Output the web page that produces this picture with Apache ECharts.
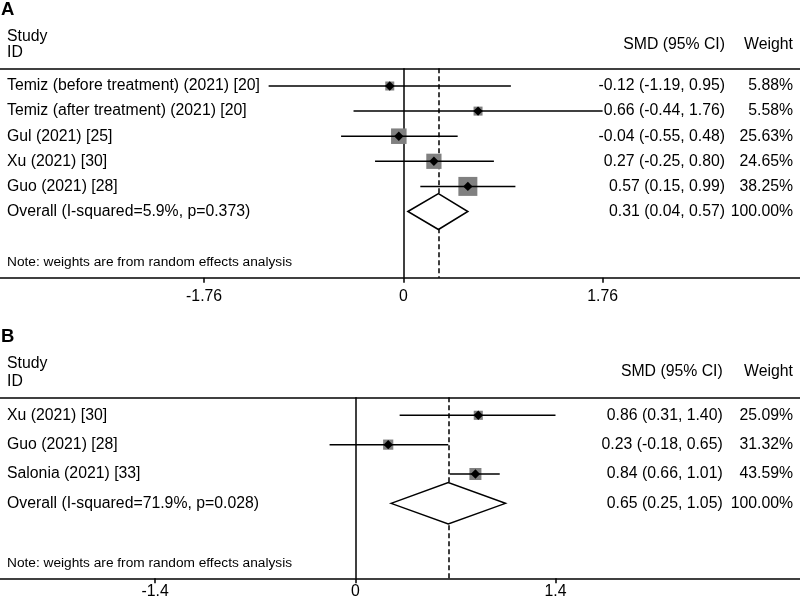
<!DOCTYPE html>
<html>
<head>
<meta charset="utf-8">
<script src="https://cdn.jsdelivr.net/npm/echarts@6/dist/echarts.min.js"></script>
<style>html,body{margin:0;padding:0;background:#fff;}#c{width:800px;height:605px;}</style>
</head>
<body>
<div id="c"></div>
<script>
// ---------- Panel A data ----------
const studiesA = ['Temiz (before treatment) (2021) [20]', 'Temiz (after treatment) (2021) [20]', 'Gul (2021) [25]', 'Xu (2021) [30]', 'Guo (2021) [28]'];
const smdA = [-0.12, 0.66, -0.04, 0.27, 0.57];
const lowerA = [-1.19, -0.44, -0.55, -0.25, 0.15];
const upperA = [0.95, 1.76, 0.48, 0.80, 0.99];
const weightA = [5.88, 5.58, 25.63, 24.65, 38.25];
const overallLabelA = 'Overall (I-squared=5.9%, p=0.373)';
const overallA = [0.31, 0.04, 0.57];
const ticksA = [-1.76, 0, 1.76];

// ---------- Panel B data ----------
const studiesB = ['Xu (2021) [30]', 'Guo (2021) [28]', 'Salonia (2021) [33]'];
const smdB = [0.86, 0.23, 0.84];
const lowerB = [0.31, -0.18, 0.66];
const upperB = [1.40, 0.65, 1.01];
const weightB = [25.09, 31.32, 43.59];
const overallLabelB = 'Overall (I-squared=71.9%, p=0.028)';
const overallB = [0.65, 0.25, 1.05];
const ticksB = [-1.4, 0, 1.4];

const noteText = 'Note: weights are from random effects analysis';

const FONT = '"Liberation Sans", Arial, Helvetica, sans-serif';
const FS = 15.8;
const chart = echarts.init(document.getElementById('c'), null, {renderer: 'canvas'});

function fmtCI(e, l, h) { return e.toFixed(2) + ' (' + l.toFixed(2) + ', ' + h.toFixed(2) + ')'; }

function studyRender(names, k, smdRight) {
  return function (params, api) {
    const row = api.value(0), est = api.value(1), lo = api.value(2), hi = api.value(3), w = api.value(4);
    const pe = api.coord([est, row]);
    const pl = api.coord([lo, row]);
    const ph = api.coord([hi, row]);
    const s = Math.max(k * Math.sqrt(w), 9);
    const d = 4.7;
    return {
      type: 'group',
      children: [
        {type: 'rect', shape: {x: pe[0] - s / 2, y: pe[1] - s / 2, width: s, height: s}, style: {fill: '#808080'}},
        {type: 'line', shape: {x1: pl[0], y1: pl[1], x2: ph[0], y2: ph[1]}, style: {stroke: '#000', lineWidth: 1.5}},
        {type: 'polygon', shape: {points: [[pe[0] - d, pe[1]], [pe[0], pe[1] - d], [pe[0] + d, pe[1]], [pe[0], pe[1] + d]]}, style: {fill: '#000'}},
        {type: 'text', style: {x: 7, y: pe[1], text: names[params.dataIndex], fontSize: FS, fontFamily: FONT, fill: '#000', align: 'left', verticalAlign: 'middle'}},
        {type: 'text', style: {x: smdRight, y: pe[1], text: fmtCI(est, lo, hi), fontSize: FS, fontFamily: FONT, fill: '#000', align: 'right', verticalAlign: 'middle'}},
        {type: 'text', style: {x: 793, y: pe[1], text: w.toFixed(2) + '%', fontSize: FS, fontFamily: FONT, fill: '#000', align: 'right', verticalAlign: 'middle'}}
      ]
    };
  };
}

function overallRender(label, halfH, smdRight) {
  return function (params, api) {
    const row = api.value(0), est = api.value(1), lo = api.value(2), hi = api.value(3);
    const pe = api.coord([est, row]);
    const pl = api.coord([lo, row]);
    const ph = api.coord([hi, row]);
    return {
      type: 'group',
      children: [
        {type: 'polygon', shape: {points: [[pl[0], pl[1]], [pe[0], pe[1] - halfH], [ph[0], ph[1]], [pe[0], pe[1] + halfH]]}, style: {fill: '#fff', stroke: '#000', lineWidth: 1.5}},
        {type: 'text', style: {x: 7, y: pe[1], text: label, fontSize: FS, fontFamily: FONT, fill: '#000', align: 'left', verticalAlign: 'middle'}},
        {type: 'text', style: {x: smdRight, y: pe[1], text: fmtCI(est, lo, hi), fontSize: FS, fontFamily: FONT, fill: '#000', align: 'right', verticalAlign: 'middle'}},
        {type: 'text', style: {x: 793, y: pe[1], text: '100.00%', fontSize: FS, fontFamily: FONT, fill: '#000', align: 'right', verticalAlign: 'middle'}}
      ]
    };
  };
}

function bottomAxis(grid, min, max, ticks, margin) {
  return {
    gridIndex: grid, type: 'value', min: min, max: max, position: 'bottom',
    axisLine: {show: true, onZero: false, lineStyle: {color: '#000', width: 1.5}},
    axisTick: {show: true, customValues: ticks, length: 5, lineStyle: {color: '#000', width: 1.5}},
    axisLabel: {show: true, customValues: ticks, formatter: v => String(v), margin: margin, fontSize: FS, fontFamily: FONT, color: '#000'},
    splitLine: {show: false}
  };
}
function topAxis(grid, min, max) {
  return {
    gridIndex: grid, type: 'value', min: min, max: max, position: 'top',
    axisLine: {show: true, onZero: false, lineStyle: {color: '#000', width: 1.5}},
    axisTick: {show: false}, axisLabel: {show: false}, splitLine: {show: false}
  };
}

const dataA = studiesA.map((n, i) => [i, smdA[i], lowerA[i], upperA[i], weightA[i]]);
const dataB = studiesB.map((n, i) => [i, smdB[i], lowerB[i], upperB[i], weightB[i]]);

function txt(x, y, t, opts) {
  return {type: 'text', x: x, y: y, style: Object.assign({text: t, fontSize: FS, fontFamily: FONT, fill: '#000', align: 'left', verticalAlign: 'middle'}, opts || {})};
}

const option = {
  backgroundColor: '#fff',
  animation: false,
  grid: [
    {left: 0, right: 0, top: 68.3, height: 209.4},
    {left: 0, right: 0, top: 397.3, height: 181}
  ],
  xAxis: [
    bottomAxis(0, -3.563, 3.504, ticksA, 11),
    topAxis(0, -3.563, 3.504),
    bottomAxis(1, -2.485, 3.110, ticksB, 5.5),
    topAxis(1, -2.485, 3.110)
  ],
  yAxis: [
    {gridIndex: 0, type: 'value', inverse: true, min: -0.705, max: 7.637, show: false},
    {gridIndex: 1, type: 'value', inverse: true, min: -0.613, max: 5.554, show: false}
  ],
  graphic: [
    txt(1, 10, 'A', {fontSize: 18.5, fontWeight: 'bold'}),
    txt(7, 36.5, 'Study'),
    txt(7, 52.5, 'ID'),
    txt(725, 45, 'SMD (95% CI)', {align: 'right'}),
    txt(793, 45, 'Weight', {align: 'right'}),
    txt(7, 262, noteText, {fontSize: 13.7}),
    txt(1, 337, 'B', {fontSize: 18.5, fontWeight: 'bold'}),
    txt(7, 364, 'Study'),
    txt(7, 381.5, 'ID'),
    txt(722.7, 372, 'SMD (95% CI)', {align: 'right'}),
    txt(793, 372, 'Weight', {align: 'right'}),
    txt(7, 563, noteText, {fontSize: 13.7})
  ],
  series: [
    {
      type: 'custom', xAxisIndex: 0, yAxisIndex: 0, clip: false, z: 3,
      encode: {x: [1, 2, 3], y: 0},
      renderItem: studyRender(studiesA, 3.07, 725),
      data: dataA,
      markLine: {
        silent: true, symbol: 'none', label: {show: false}, z: 1,
        data: [
          {xAxis: 0, lineStyle: {color: '#000', width: 1.5, type: 'solid'}},
          {xAxis: overallA[0], lineStyle: {color: '#000', width: 1.5, type: [5, 3]}}
        ]
      }
    },
    {
      type: 'custom', xAxisIndex: 0, yAxisIndex: 0, clip: false, z: 3,
      encode: {x: [1, 2, 3], y: 0},
      renderItem: overallRender(overallLabelA, 18, 725),
      data: [[studiesA.length, overallA[0], overallA[1], overallA[2]]]
    },
    {
      type: 'custom', xAxisIndex: 2, yAxisIndex: 1, clip: false, z: 3,
      encode: {x: [1, 2, 3], y: 0},
      renderItem: studyRender(studiesB, 1.82, 722.7),
      data: dataB,
      markLine: {
        silent: true, symbol: 'none', label: {show: false}, z: 1,
        data: [
          {xAxis: 0, lineStyle: {color: '#000', width: 1.5, type: 'solid'}},
          {xAxis: overallB[0], lineStyle: {color: '#000', width: 1.5, type: [5, 3]}}
        ]
      }
    },
    {
      type: 'custom', xAxisIndex: 2, yAxisIndex: 1, clip: false, z: 3,
      encode: {x: [1, 2, 3], y: 0},
      renderItem: overallRender(overallLabelB, 20.7, 722.7),
      data: [[studiesB.length, overallB[0], overallB[1], overallB[2]]]
    }
  ]
};
chart.setOption(option);
</script>
</body>
</html>
